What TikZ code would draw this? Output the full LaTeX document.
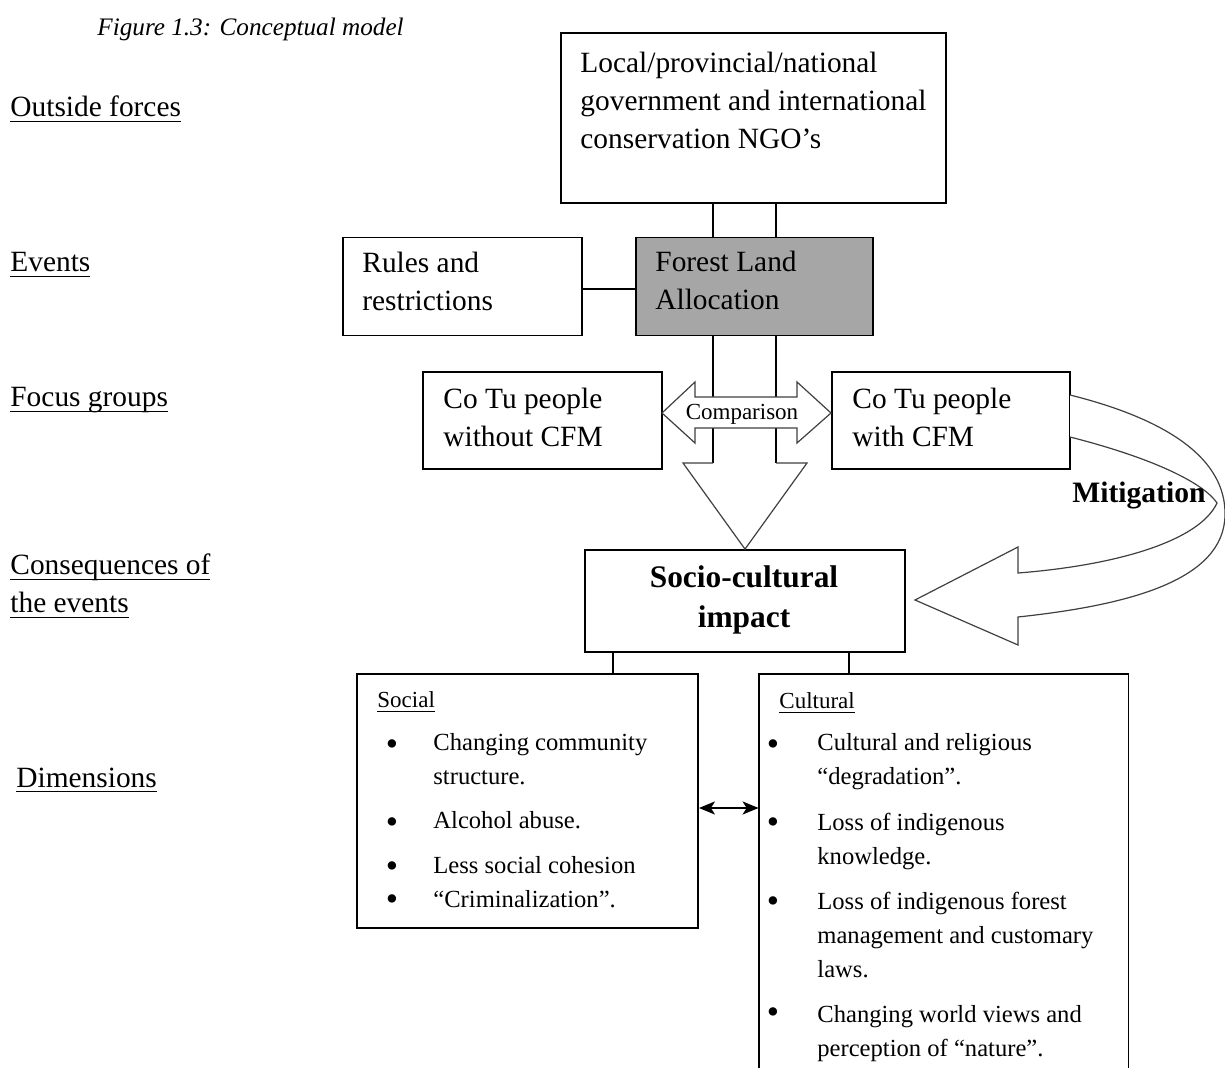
\documentclass[tikz,border=0pt]{standalone}
\usepackage{fontspec}
\setmainfont{Liberation Serif}
\usetikzlibrary{arrows.meta}
\definecolor{fillgray}{HTML}{A6A6A6}
\definecolor{arrgray}{HTML}{404040}
\newcommand\myul[1]{\setbox0\hbox{#1}\rlap{\rule[-2.6pt]{\wd0}{0.75pt}}\box0}
\begin{document}
\begin{tikzpicture}[x=0.5pt,y=-0.5pt,
  box/.style={draw, line width=0.9pt, inner sep=0pt},
  conn/.style={line width=0.9pt},
  body/.style={font=\fontsize{14.7}{19}\selectfont, anchor=base west, inner sep=0pt, align=left},
  small/.style={font=\fontsize{12.3}{17}\selectfont, anchor=base west, inner sep=0pt, align=left},
  head/.style={font=\fontsize{11.5}{14}\selectfont, anchor=base west, inner sep=0pt},
  bul/.style={font=\fontsize{17.5}{17.5}\selectfont, inner sep=0pt, anchor=center},
  fat/.style={draw=arrgray, line width=0.6pt, fill=white, line join=miter}]
\useasboundingbox (0,0) rectangle (1225,1068);

% boxes
\node[box, minimum width=192.5pt, minimum height=85pt] (gov) at (753.5,118) {};
\node[box, minimum width=119.5pt, minimum height=49pt] (rules) at (462.5,286.5) {};
\node[box, fill=fillgray, minimum width=118.5pt, minimum height=49pt] (fla) at (754.5,286.5) {};
\node[box, minimum width=119.5pt, minimum height=48.5pt] (wo) at (542.5,420.5) {};
\node[box, minimum width=119pt, minimum height=48.5pt] (wi) at (951,420.5) {};
\node[box, minimum width=160pt, minimum height=51pt] (socio) at (745,601) {};
\node[box, minimum width=170.5pt, minimum height=127pt] (social) at (527.5,801) {};
\node[inner sep=0pt, minimum width=184.5pt, minimum height=199pt] (cult) at (943.5,873) {};
\draw[conn] (cult.south west) -- (cult.north west) -- (cult.north east) -- (cult.south east);

% connectors
\coordinate (c1) at (713,0);
\coordinate (c2) at (776,0);
\coordinate (r1) at (0,289);
\draw[conn] (gov.south -| c1) -- (fla.north -| c1);
\draw[conn] (gov.south -| c2) -- (fla.north -| c2);
\draw[conn] (rules.east |- r1) -- (fla.west |- r1);

% big down arrow
\fill[white] (fla.south -| c1) -- (713,463) -- (683,463) -- (socio.north) -- (807,463) -- (776,463) -- (fla.south -| c2) -- cycle;
\draw[conn] (fla.south -| c1) -- (713,463);
\draw[conn] (fla.south -| c2) -- (776,463);
\draw[fat, fill=none] (713,463) -- (683,463) -- (socio.north) -- (807,463) -- (776,463);

% comparison double arrow
\coordinate (cl) at (662,413);
\coordinate (cr) at (831,413);
\draw[fat] (cl) -- (695,382) -- (695,397) -- (797,397) -- (797,382) -- (cr)
  -- (797,443) -- (797,428) -- (695,428) -- (695,443) -- cycle;
\node[font=\fontsize{11.5}{12}\selectfont, anchor=base, inner sep=0pt] (cmp) at (742,420) {Comparison};

% mitigation arrow
\draw[fat] (1070,395) .. controls (1170,420) and (1226,460) .. (1225,515)
  .. controls (1224,580) and (1130,605) .. (1018,617)
  -- (1018,645) -- (915,600) -- (1018,547) -- (1018,573)
  .. controls (1120,565) and (1200,540) .. (1217,503)
  .. controls (1205,485) and (1160,460) .. (1070,437);
\node[font=\bfseries\fontsize{14.8}{18}\selectfont, anchor=base west, inner sep=0pt] (mit) at (1072,503) {Mitigation};

% lower connectors
\coordinate (s1) at (613,0);
\coordinate (s2) at (849,0);
\draw[conn] (socio.south -| s1) -- (social.north -| s1);
\draw[conn] (socio.south -| s2) -- (cult.north -| s2);
\coordinate (da) at (0,808);
\draw[conn, {Stealth[length=8pt,width=6.5pt,inset=2pt]}-{Stealth[length=8pt,width=6.5pt,inset=2pt]}] (social.east |- da) -- (cult.west |- da);

% title and left labels
\node[font=\itshape\fontsize{12.6}{15}\selectfont, anchor=base west, inner sep=0pt] (title) at (97,36) {Figure 1.3: Conceptual model};
\node[body] (L1) at (10,117) {\myul{Outside forces}};
\node[body] (L2) at (10,272) {\myul{Events}};
\node[body] (L3) at (10,407) {\myul{Focus groups}};
\node[body] (L4) at (10,613) {\myul{Consequences of}\\\myul{the events}};
\node[body] (L5) at (16,787) {\myul{Dimensions}};

% box texts (base anchor = baseline of last line)
\node[body] (govt) at (580,149) {Local/provincial/national\\government and international\\conservation NGO’s};
\node[body] (rulest) at (362,311) {Rules and\\restrictions};
\node[body] (flat) at (655,310) {Forest Land\\Allocation};
\node[body] (wot) at (443,447) {Co Tu people\\without CFM};
\node[body] (wit) at (852,447) {Co Tu people\\with CFM};
\node[font=\bfseries\fontsize{15.7}{20.5}\selectfont, align=center, anchor=base, inner sep=0pt] (sct) at (744,628) {Socio-cultural\\impact};

% social list
\node[head] (soch) at (377,707) {\myul{Social}};
\node[bul] (sb1) at (392,748) {•};
\node[small] (si1) at (433,784) {Changing community\\structure.};
\node[bul] (sb2) at (392,826) {•};
\node[small] (si2) at (433,828) {Alcohol abuse.};
\node[bul] (sb3) at (392,870) {•};
\node[small] (si3) at (433,873) {Less social cohesion};
\node[bul] (sb4) at (392,903) {•};
\node[small] (si4) at (433,907) {“Criminalization”.};

% cultural list
\node[head] (culh) at (779,708) {\myul{Cultural}};
\node[bul] (cb1) at (773,748) {•};
\node[small] (ci1) at (817,784) {Cultural and religious\\“degradation”.};
\node[bul] (cb2) at (773,826) {•};
\node[small] (ci2) at (817,864) {Loss of indigenous\\knowledge.};
\node[bul] (cb3) at (773,905) {•};
\node[small] (ci3) at (817,977) {Loss of indigenous forest\\management and customary\\laws.};
\node[bul] (cb4) at (773,1016) {•};
\node[small] (ci4) at (817,1056) {Changing world views and\\perception of “nature”.};
\end{tikzpicture}
\end{document}
